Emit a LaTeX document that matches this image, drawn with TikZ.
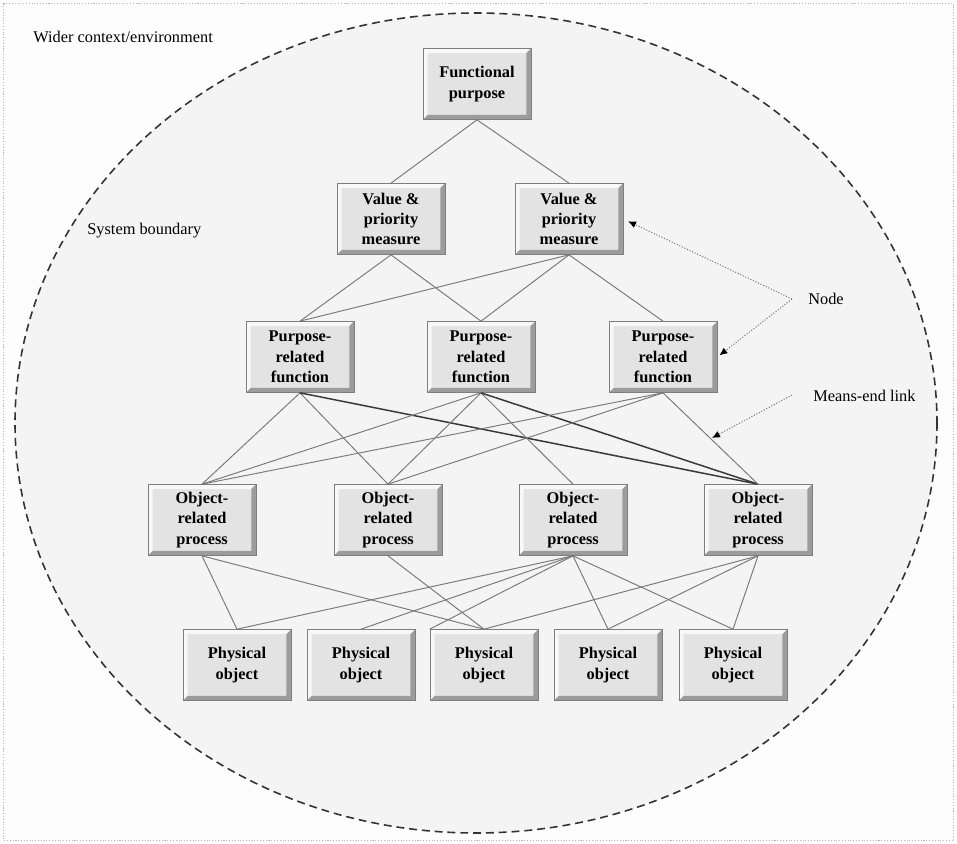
\documentclass[tikz,border=0pt]{standalone}
\usepackage{fontspec}
\setmainfont{Liberation Serif}
\usetikzlibrary{arrows.meta}

\definecolor{outerwhite}{HTML}{FDFDFD}
\definecolor{insidegrey}{HTML}{F4F4F4}
\definecolor{framegrey}{HTML}{B4B4B4}
\definecolor{ringdark}{HTML}{333333}
\definecolor{boxface}{HTML}{E3E3E3}
\definecolor{boxlight}{HTML}{F8F8F8}
\definecolor{boxshade}{HTML}{9C9C9C}
\definecolor{boxedge}{HTML}{7E7E7E}
\definecolor{linkgrey}{HTML}{7A7A7A}
\definecolor{linkdark}{HTML}{3A3A3A}

\tikzset{
  levelbox/.style={rectangle, minimum width=2.16cm, minimum height=1.42cm,
    inner sep=0pt, align=center, fill=boxface, draw=boxedge, line width=0.4pt,
    font=\fontsize{9.3}{11.6}\selectfont\bfseries,
    path picture={
      \coordinate (bsw) at (path picture bounding box.south west);
      \coordinate (bne) at (path picture bounding box.north east);
      \coordinate (bnw) at (bsw |- bne);
      \coordinate (bse) at (bsw -| bne);
      \fill[boxlight] (bsw) -- (bnw) -- (bne) -- ([shift={(-2.6pt,-2.6pt)}]bne)
        -- ([shift={(2.6pt,-2.6pt)}]bnw) -- ([shift={(2.6pt,2.6pt)}]bsw) -- cycle;
      \fill[boxshade] (bsw) -- (bse) -- (bne) -- ([shift={(-2.6pt,-2.6pt)}]bne)
        -- ([shift={(-2.6pt,2.6pt)}]bse) -- ([shift={(2.6pt,2.6pt)}]bsw) -- cycle;
    }},
  link/.style={draw=linkgrey, line width=0.55pt},
  stronglink/.style={draw=linkdark, line width=0.85pt},
  pointer/.style={draw=linkgrey, densely dotted, line width=0.6pt,
    -{Latex[length=4.5pt,width=4pt,color=black]}},
  caption/.style={anchor=west, inner sep=0pt, font=\fontsize{9.3}{11.6}\selectfont}
}

\begin{document}
\begin{tikzpicture}[x=0.02cm, y=-0.02cm]
  \useasboundingbox (0,0) rectangle (957,844);
  \fill[outerwhite] (0,0) rectangle (957,844);
  \draw[framegrey, densely dotted, line width=0.6pt] (3.5,3.5) rectangle (953.5,840.5);
  \filldraw[fill=insidegrey, draw=ringdark, line width=0.9pt,
    dash pattern=on 4.5pt off 2.8pt] (476,423) ellipse [x radius=461, y radius=410];

  \node[caption] (wider) at (33,37) {Wider context/environment};
  \node[caption] (sysb) at (87,231) {System boundary};
  \node[caption] (nodelbl) at (808,299) {Node};
  \node[caption] (linklbl) at (813,396) {Means-end link};

  % levels of the hierarchy
  \node[levelbox] (FP) at (477,84) {Functional\\purpose};

  \node[levelbox] (VP1) at (391,219) {Value \&\\priority\\measure};
  \node[levelbox] (VP2) at (569,219) {Value \&\\priority\\measure};

  \node[levelbox] (PF1) at (300,357) {Purpose-\\related\\function};
  \node[levelbox] (PF2) at (481,357) {Purpose-\\related\\function};
  \node[levelbox] (PF3) at (663,357) {Purpose-\\related\\function};

  \node[levelbox] (OP1) at (202,520) {Object-\\related\\process};
  \node[levelbox] (OP2) at (388,520) {Object-\\related\\process};
  \node[levelbox] (OP3) at (573,520) {Object-\\related\\process};
  \node[levelbox] (OP4) at (758,520) {Object-\\related\\process};

  \node[levelbox] (PO1) at (237,665) {Physical\\object};
  \node[levelbox] (PO2) at (361,665) {Physical\\object};
  \node[levelbox] (PO3) at (484,665) {Physical\\object};
  \node[levelbox] (PO4) at (608,665) {Physical\\object};
  \node[levelbox] (PO5) at (733,665) {Physical\\object};

  % means-end links
  \draw[link] (FP.south) -- (VP1.north);
  \draw[link] (FP.south) -- (VP2.north);

  \draw[link] (VP1.south) -- (PF1.north);
  \draw[link] (VP1.south) -- (PF2.north);
  \draw[link] (VP2.south) -- (PF1.north);
  \draw[link] (VP2.south) -- (PF2.north);
  \draw[link] (VP2.south) -- (PF3.north);

  \draw[link] (PF1.south) -- (OP1.north);
  \draw[link] (PF1.south) -- (OP2.north);
  \draw[stronglink] (PF1.south) -- (OP4.north);
  \draw[link] (PF2.south) -- (OP1.north);
  \draw[link] (PF2.south) -- (OP2.north);
  \draw[link] (PF2.south) -- (OP3.north);
  \draw[stronglink] (PF2.south) -- (OP4.north);
  \draw[link] (PF3.south) -- (OP1.north);
  \draw[link] (PF3.south) -- (OP2.north);
  \draw[link] (PF3.south) -- (OP4.north);

  \draw[link] (OP1.south) -- (PO1.north);
  \draw[link] (OP1.south) -- (PO3.north);
  \draw[link] (OP2.south) -- (PO3.north);
  \draw[link] (OP3.south) -- (PO1.north);
  \draw[link] (OP3.south) -- (PO2.north);
  \draw[link] (OP3.south) -- (PO3.north west);
  \draw[link] (OP3.south) -- (PO4.north);
  \draw[link] (OP3.south) -- (PO5.north);
  \draw[link] (OP4.south) -- (PO3.north);
  \draw[link] (OP4.south) -- (PO4.north);
  \draw[link] (OP4.south) -- (PO5.north);

  % pointers from the captions
  \coordinate (nodetail) at (792,299);
  \coordinate (linktail) at (792,395);
  \coordinate (linkhead) at (712,438);
  \draw[pointer, shorten >=3pt] (nodetail) -- (VP2.east);
  \draw[pointer, shorten >=1.5pt] (nodetail) -- (PF3.east);
  \draw[pointer] (linktail) -- (linkhead);
\end{tikzpicture}
\end{document}
